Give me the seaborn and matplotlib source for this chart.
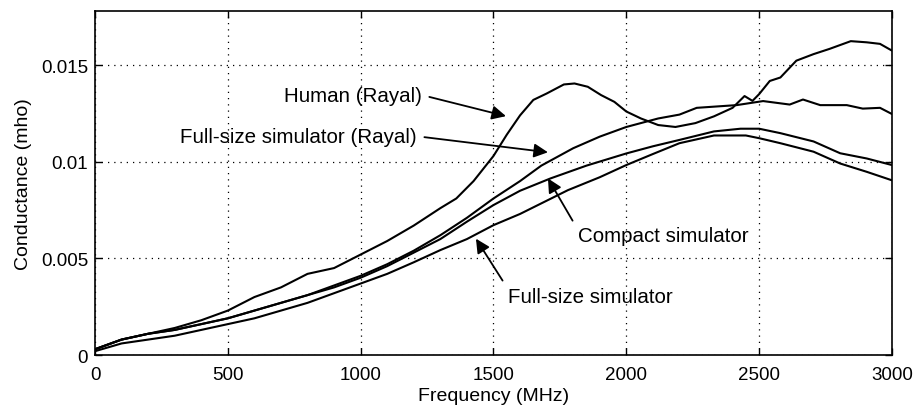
import numpy as np
import pandas as pd
import matplotlib
matplotlib.use("Agg")
import matplotlib.pyplot as plt
import seaborn as sns

# Human (Rayal)
human_freq = [0, 100, 200, 300, 400, 500, 600, 700, 800, 900, 1000, 1100, 1200, 1300,
              1360, 1425, 1500, 1550, 1600, 1650, 1700, 1765, 1805, 1855, 1905, 1955,
              2000, 2055, 2120, 2185, 2260, 2330, 2400, 2445, 2475, 2500, 2540, 2580,
              2640, 2705, 2765, 2845, 2905, 2955, 3000]
human_rayal = [0.0003, 0.0008, 0.0011, 0.0014, 0.0018, 0.0023, 0.0030, 0.0035, 0.0042,
               0.0045, 0.0052, 0.0059, 0.0067, 0.0076, 0.0081, 0.0090, 0.0103, 0.0114,
               0.0124, 0.0132, 0.01353, 0.0140, 0.01405, 0.01388, 0.01345, 0.0131,
               0.0126, 0.01224, 0.0119, 0.0118, 0.0120, 0.01235, 0.01279, 0.0134,
               0.01315, 0.0135, 0.01418, 0.01436, 0.01523, 0.01557, 0.01584, 0.01624,
               0.01618, 0.0161, 0.01575]

# Full-size simulator (Rayal)
fsr_freq = [0, 100, 200, 300, 400, 500, 600, 700, 800, 900, 1000, 1100, 1200, 1300,
            1400, 1500, 1600, 1680, 1800, 1900, 2000, 2120, 2200, 2265, 2350, 2415,
            2515, 2615, 2665, 2730, 2830, 2890, 2955, 3000]
fullsize_rayal = [0.0003, 0.0008, 0.0011, 0.0013, 0.0016, 0.0019, 0.0023, 0.0027, 0.0031,
                  0.0036, 0.0041, 0.0047, 0.0054, 0.0062, 0.0071, 0.0081, 0.0090, 0.0098,
                  0.0107, 0.0113, 0.0118, 0.01224, 0.01244, 0.01279, 0.01287, 0.01293,
                  0.01314, 0.01296, 0.01322, 0.01293, 0.01293, 0.01275, 0.01279, 0.01247]

# Compact simulator
cs_freq = [0, 100, 200, 300, 400, 500, 600, 700, 800, 900, 1000, 1100, 1200, 1300, 1400,
           1500, 1600, 1715, 1850, 2000, 2100, 2200, 2330, 2430, 2500, 2580, 2705, 2805,
           2905, 3000]
compact_sim = [0.0003, 0.0008, 0.0011, 0.0013, 0.0016, 0.0019, 0.0023, 0.0027, 0.0031,
               0.0035, 0.0040, 0.0046, 0.0053, 0.0060, 0.0069, 0.00776, 0.0085, 0.00914,
               0.0098, 0.01043, 0.0108, 0.01113, 0.01157, 0.01171, 0.01171, 0.01148,
               0.01105, 0.01044, 0.01017, 0.00983]

# Full-size simulator
fs_freq = [0, 100, 200, 300, 400, 500, 600, 700, 800, 900, 1000, 1100, 1200, 1300, 1400,
           1500, 1600, 1780, 1900, 2000, 2100, 2200, 2330, 2450, 2500, 2580, 2705, 2805,
           2905, 3000]
fullsize_sim = [0.0002, 0.0006, 0.0008, 0.0010, 0.0013, 0.0016, 0.0019, 0.0023, 0.0027,
                0.0032, 0.0037, 0.0042, 0.0048, 0.00543, 0.0060, 0.00672, 0.0073, 0.00853,
                0.0092, 0.00983, 0.0104, 0.01096, 0.01136, 0.01136, 0.01122, 0.01096,
                0.01052, 0.00991, 0.00948, 0.00904]

x_ticks = [0, 500, 1000, 1500, 2000, 2500, 3000]
y_ticks = [0, 0.005, 0.01, 0.015]
y_tick_labels = ["0", "0.005", "0.01", "0.015"]

sns.set_theme(style="ticks")
plt.rcParams['font.family'] = ['Liberation Sans', 'DejaVu Sans']
plt.rcParams['text.color'] = 'black'
plt.rcParams['axes.labelcolor'] = 'black'

fig = plt.figure(figsize=(9.17, 4.14), dpi=100)
ax = fig.add_axes([0.1036, 0.140, 0.8691, 0.831])

series = [
    ("Human (Rayal)", human_freq, human_rayal),
    ("Full-size simulator (Rayal)", fsr_freq, fullsize_rayal),
    ("Compact simulator", cs_freq, compact_sim),
    ("Full-size simulator", fs_freq, fullsize_sim),
]
df = pd.DataFrame([(f, name, v) for name, fr, vals in series for f, v in zip(fr, vals)],
                  columns=["freq", "series", "G"])
sns.lineplot(data=df, x="freq", y="G", hue="series", palette=["black"] * 4,
             linewidth=1.5, legend=False, ax=ax, sort=False)

ax.set_xlim(0, 3000)
ax.set_ylim(0, 0.0178)
ax.set_xticks(x_ticks)
ax.set_yticks(y_ticks)
ax.set_yticklabels(y_tick_labels)
ax.grid(True, linestyle=(0, (1, 4)), color="black", linewidth=0.9)
ax.tick_params(direction="in", length=5, width=1, top=True, right=True,
               labelsize=13.5, colors="black")
ax.tick_params(axis="x", pad=8)
ax.tick_params(axis="y", pad=5)
for s in ax.spines.values():
    s.set_linewidth(1.2)
    s.set_color("black")
ax.set_xlabel("Frequency (MHz)", fontsize=14, labelpad=3, color="black")
ax.set_ylabel("Conductance (mho)", fontsize=14, labelpad=6, color="black")

ap = dict(arrowstyle="-|>,head_length=0.6,head_width=0.3", color="black", lw=1.3,
          shrinkA=3, shrinkB=0, mutation_scale=14)
fs_ann = 14.8
ax.annotate("Human (Rayal)", xy=(1547, 0.01236), xytext=(1231, 0.01345),
            ha="right", va="center", fontsize=fs_ann, color="black",
            arrowprops=dict(ap, relpos=(1, 0.5)))
ax.annotate("Full-size simulator (Rayal)", xy=(1705, 0.01049), xytext=(1212, 0.01132),
            ha="right", va="center", fontsize=fs_ann, color="black",
            arrowprops=dict(ap, relpos=(1, 0.5)))
ax.annotate("Compact simulator", xy=(1705, 0.00914), xytext=(1818, 0.00618),
            ha="left", va="center", fontsize=fs_ann, color="black",
            arrowprops=dict(ap, relpos=(0, 0.8)))
ax.annotate("Full-size simulator", xy=(1434, 0.00602), xytext=(1555, 0.00301),
            ha="left", va="center", fontsize=fs_ann, color="black",
            arrowprops=dict(ap, relpos=(0, 0.9)))

fig.savefig("out.png", dpi=100)
